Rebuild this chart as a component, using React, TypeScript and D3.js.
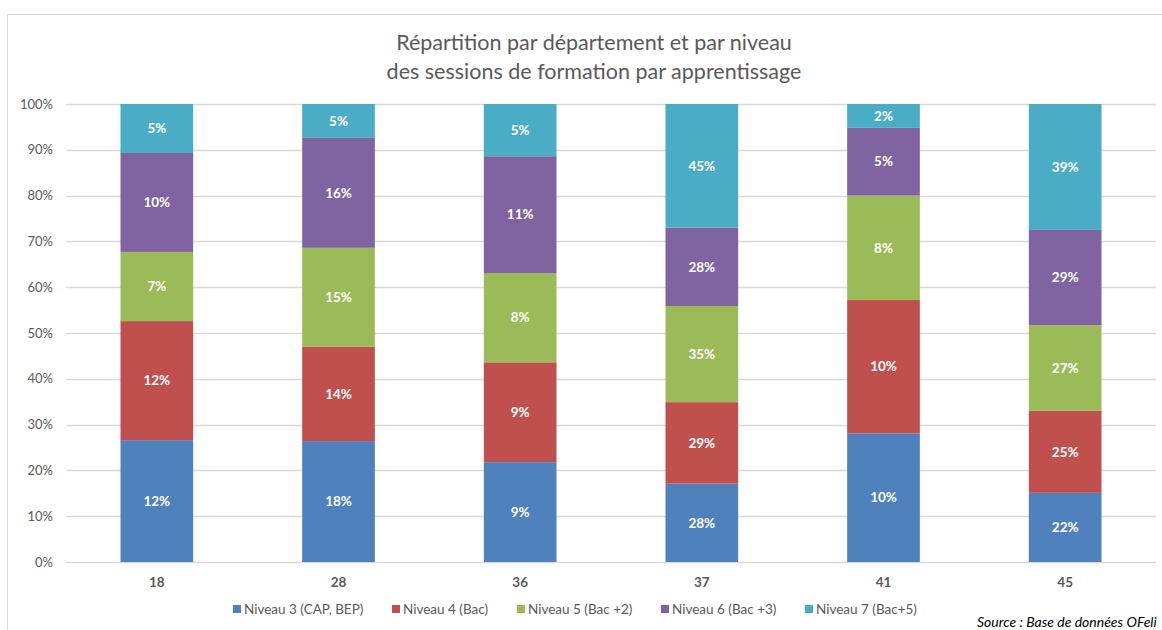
import React from "react";
import * as d3 from "d3";

// departements (x axis)
const departements = ["18", "28", "36", "37", "41", "45"];

const niveaux = [
  "Niveau 3 (CAP, BEP)",
  "Niveau 4 (Bac)",
  "Niveau 5 (Bac +2)",
  "Niveau 6 (Bac +3)",
  "Niveau 7 (Bac+5)",
];

// share of each level in the column (height of the segments, in %)
const niveau3 = [26.6, 26.4, 21.8, 17.1, 28.1, 15.1];
const niveau4 = [26.0, 20.6, 21.8, 17.8, 29.1, 17.9];
const niveau5 = [15.1, 21.6, 19.5, 21.0, 22.8, 18.7];
const niveau6 = [21.6, 24.0, 25.5, 17.1, 14.8, 20.8];
const niveau7 = [10.7, 7.4, 11.4, 27.0, 5.2, 27.5];

// the labels printed on the segments
const labels3 = ["12%", "18%", "9%", "28%", "10%", "22%"];
const labels4 = ["12%", "14%", "9%", "29%", "10%", "25%"];
const labels5 = ["7%", "15%", "8%", "35%", "8%", "27%"];
const labels6 = ["10%", "16%", "11%", "28%", "5%", "29%"];
const labels7 = ["5%", "5%", "5%", "45%", "2%", "39%"];

const yTicks = [0, 10, 20, 30, 40, 50, 60, 70, 80, 90, 100];

const colors = ["#4F81BD", "#C0504D", "#9BBB59", "#8064A2", "#4BACC6"];

const series = [niveau3, niveau4, niveau5, niveau6, niveau7];
const seriesLabels = [labels3, labels4, labels5, labels6, labels7];

const width = 1162;
const height = 630;
const margin = { top: 104, right: 6, bottom: 68, left: 66 };
const font = "Lato, 'Open Sans', sans-serif";
const grey = "#595959";

if (typeof document !== "undefined") document.body.style.margin = "0";

export default function App() {
  // build table for d3.stack
  const table = departements.map((d, i) => {
    const row: any = { dep: d };
    niveaux.forEach((n, j) => (row[n] = series[j][i]));
    return row;
  });
  const stacked = d3.stack().keys(niveaux)(table);

  const x = d3
    .scaleBand()
    .domain(departements)
    .range([margin.left, width - margin.right])
    .paddingInner(0.6)
    .paddingOuter(0.3);

  const y = d3
    .scaleLinear()
    .domain([0, 100])
    .range([height - margin.bottom, margin.top]);

  // legend x positions
  const legendX = [233, 392, 517, 661, 805];

  return (
    <svg width={width} height={height} style={{ display: "block", fontFamily: font }}>
      <rect x={0} y={0} width={width} height={height} fill="#fff" />
      {/* chart frame */}
      <path d={`M7.5,${height} V14.5 H${width}`} fill="none" stroke="#d9d9d9" strokeWidth={1} />

      <text x={594} y={50} textAnchor="middle" fontSize={21.5} fill={grey}>
        Répartition par département et par niveau
      </text>
      <text x={594} y={79} textAnchor="middle" fontSize={21.5} fill={grey}>
        des sessions de formation par apprentissage
      </text>

      {/* grid + y axis */}
      {yTicks.map((t) => (
        <g key={t}>
          <line
            x1={margin.left}
            x2={width - margin.right}
            y1={Math.round(y(t)) + 0.5}
            y2={Math.round(y(t)) + 0.5}
            stroke="#d9d9d9"
            strokeWidth={1.3}
          />
          <text x={53} y={y(t)} dy="0.35em" textAnchor="end" fontSize={13} fill={grey}>
            {t + "%"}
          </text>
        </g>
      ))}

      {/* bars */}
      {stacked.map((s, j) => (
        <g key={s.key} fill={colors[j]}>
          {s.map((d: any, i) => (
            <rect
              key={i}
              x={x(departements[i])}
              y={y(d[1])}
              width={x.bandwidth()}
              height={y(d[0]) - y(d[1])}
            />
          ))}
        </g>
      ))}

      {/* segment labels */}
      {stacked.map((s, j) => (
        <g key={"l" + s.key}>
          {s.map((d: any, i) => (
            <text
              key={i}
              x={(x(departements[i]) as number) + x.bandwidth() / 2}
              y={(y(d[0]) + y(d[1])) / 2}
              dy="0.35em"
              textAnchor="middle"
              fontSize={13.5}
              fontWeight="bold"
              fill="#fff"
            >
              {seriesLabels[j][i]}
            </text>
          ))}
        </g>
      ))}

      {/* x axis labels */}
      {departements.map((d) => (
        <text
          key={d}
          x={(x(d) as number) + x.bandwidth() / 2}
          y={582}
          dy="0.35em"
          textAnchor="middle"
          fontSize={13.5}
          fontWeight="bold"
          fill={grey}
        >
          {d}
        </text>
      ))}

      {/* legend */}
      {niveaux.map((n, j) => (
        <g key={n}>
          <rect x={legendX[j]} y={605} width={8} height={8} fill={colors[j]} />
          <text x={legendX[j] + 11} y={609} dy="0.35em" fontSize={13.5} fill={grey}>
            {n}
          </text>
        </g>
      ))}

      <text x={977} y={622} dy="0.35em" fontSize={14} fontStyle="italic" fill="#000">
        Source : Base de données OFeli
      </text>
    </svg>
  );
}
